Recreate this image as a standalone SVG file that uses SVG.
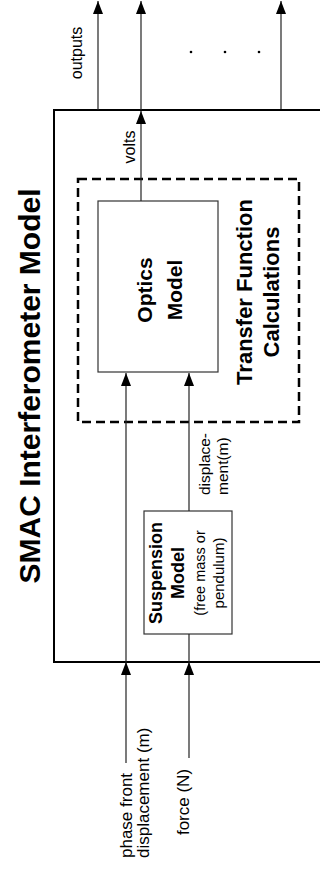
<svg xmlns="http://www.w3.org/2000/svg" width="320" height="872" viewBox="0 0 320 872">
  <style>
    text { font-family: "Liberation Sans", Arial, Helvetica, sans-serif; fill: #000; }
    .b { font-weight: bold; }
    .frame { fill: none; stroke: #000; stroke-width: 2; }
    .box { fill: none; stroke: #333; stroke-width: 1.2; }
    .dash { fill: none; stroke: #000; stroke-width: 2.5; stroke-dasharray: 9 5; }
    .wire { fill: none; stroke: #222; stroke-width: 1.2; }
    .arr { marker-end: url(#head); }
  </style>
  <defs>
    <marker id="head" markerUnits="userSpaceOnUse" markerWidth="14" markerHeight="10" refX="13" refY="5" orient="auto">
      <path d="M0,0 L13,5 L0,10 Z" fill="#000"/>
    </marker>
  </defs>

  <!-- outer model boundary -->
  <g id="interferometer-model">
    <path class="frame" d="M322,110 H54 V662 H322"/>
    <text class="b" font-size="30" transform="translate(40,386) rotate(-90)" text-anchor="middle">SMAC Interferometer Model</text>
  </g>

  <!-- dashed transfer function region -->
  <g id="transfer-function">
    <rect class="dash" x="78" y="179" width="221" height="243"/>
    <text class="b" font-size="22" transform="translate(252,292) rotate(-90)" text-anchor="middle">Transfer Function</text>
    <text class="b" font-size="22" transform="translate(279,292) rotate(-90)" text-anchor="middle">Calculations</text>
  </g>

  <g id="optics-model">
    <rect class="box" x="98" y="201" width="120" height="171"/>
    <text class="b" font-size="21" transform="translate(152,290) rotate(-90)" text-anchor="middle">Optics</text>
    <text class="b" font-size="21" transform="translate(182,290) rotate(-90)" text-anchor="middle">Model</text>
  </g>

  <g id="suspension-model">
    <rect class="box" x="144" y="511" width="88" height="123"/>
    <text class="b" font-size="18" transform="translate(162,573) rotate(-90)" text-anchor="middle">Suspension</text>
    <text class="b" font-size="18" transform="translate(184,573) rotate(-90)" text-anchor="middle">Model</text>
    <text font-size="14.5" transform="translate(205,573) rotate(-90)" text-anchor="middle">(free mass or</text>
    <text font-size="15" transform="translate(224,573) rotate(-90)" text-anchor="middle">pendulum)</text>
  </g>

  <!-- signal connectors -->
  <g id="connectors">
    <line class="wire arr" x1="126" y1="763" x2="126" y2="662"/>
    <line class="wire arr" x1="126" y1="662" x2="126" y2="373"/>
    <line class="wire arr" x1="189" y1="758" x2="189" y2="662"/>
    <line class="wire" x1="189" y1="662" x2="189" y2="634"/>
    <line class="wire arr" x1="189" y1="511" x2="189" y2="373"/>
    <line class="wire arr" x1="141" y1="201" x2="141" y2="111"/>
    <line class="wire arr" x1="141" y1="110" x2="141" y2="1"/>
    <line class="wire arr" x1="98" y1="110" x2="98" y2="1"/>
    <line class="wire arr" x1="281" y1="109" x2="281" y2="1"/>
    <circle cx="191" cy="52" r="1.3" fill="#000"/>
    <circle cx="225" cy="52" r="1.3" fill="#000"/>
    <circle cx="259" cy="52" r="1.3" fill="#000"/>
  </g>

  <!-- signal labels -->
  <g id="labels">
    <text font-size="16" transform="translate(82,53) rotate(-90)" text-anchor="middle">outputs</text>
    <text font-size="16" transform="translate(135,147) rotate(-90)" text-anchor="middle">volts</text>
    <text font-size="15.5" transform="translate(210,495) rotate(-90)">displace-</text>
    <text font-size="15.5" transform="translate(228,495) rotate(-90)">ment(m)</text>
    <text font-size="17" transform="translate(132,858) rotate(-90)">phase front</text>
    <text font-size="17" transform="translate(149,858) rotate(-90)">displacement (m)</text>
    <text font-size="17" transform="translate(189,802) rotate(-90)" text-anchor="middle">force (N)</text>
  </g>
</svg>
